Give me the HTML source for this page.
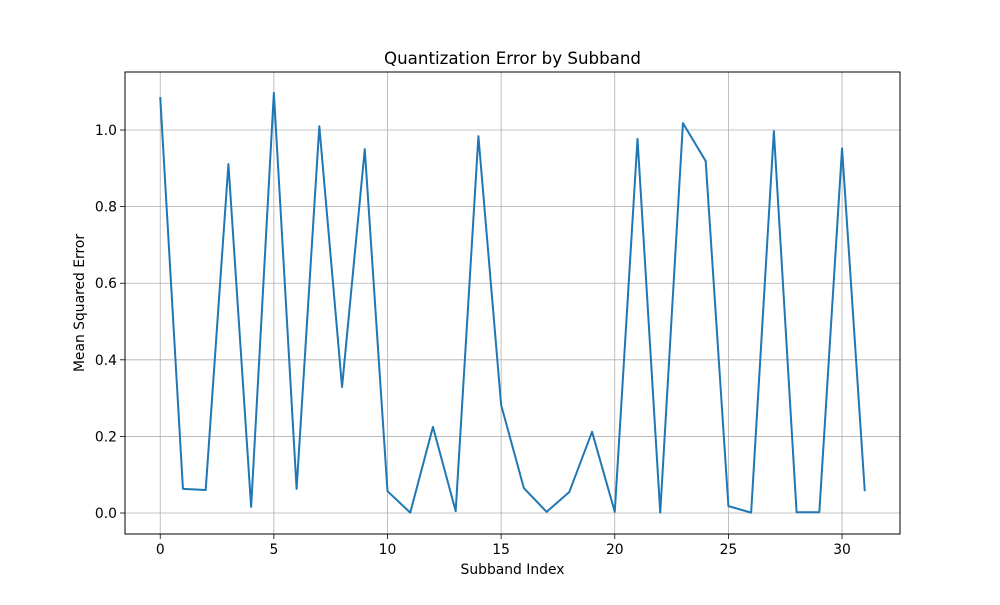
<!DOCTYPE html>
<html><head><meta charset="utf-8"><style>
body{margin:0;background:#fff;}
svg text{font-family:"DejaVu Sans","Liberation Sans",sans-serif;fill:#000;}
</style></head><body>
<svg id="chart" width="1000" height="600">
<rect x="0" y="0" width="1000" height="600" fill="#fff"/>
<text x="512.5" y="64" text-anchor="middle" font-size="16.67">Quantization Error by Subband</text>
<g id="grid"></g><g id="ticks"></g>
<path id="line" fill="none" stroke="#1f77b4" stroke-width="2" stroke-linejoin="round"/>
<rect x="125" y="72" width="775" height="462" fill="none" stroke="#000" stroke-width="1"/>
<text x="512.5" y="574" text-anchor="middle" font-size="13.89">Subband Index</text>
<text x="0" y="0" transform="translate(84,303) rotate(-90)" text-anchor="middle" font-size="13.89">Mean Squared Error</text>
</svg>
<script>
const mseValues=[1.086,0.063,0.060,0.911,0.016,1.097,0.063,1.010,0.329,0.950,0.057,0.001,0.225,0.005,0.984,0.282,0.065,0.003,0.055,0.212,0.003,0.977,0.001,1.018,0.919,0.018,0.001,0.997,0.002,0.002,0.952,0.057];
const xTicks=[0,5,10,15,20,25,30];
const yTicks=[0.0,0.2,0.4,0.6,0.8,1.0];
const yLabels=["0.0","0.2","0.4","0.6","0.8","1.0"];
const X0=125,X1=900,Y0=534,Y1=72;
const xMin=-1.55,xMax=32.55,yMin=-0.0548,yMax=1.1515;
function xs(v){return X0+(v-xMin)/(xMax-xMin)*(X1-X0);}
function ys(v){return Y0-(v-yMin)/(yMax-yMin)*(Y0-Y1);}
const NS="http://www.w3.org/2000/svg";
const grid=document.getElementById('grid'),ticks=document.getElementById('ticks');
function mk(tag,attrs,parent){const e=document.createElementNS(NS,tag);for(const k in attrs)e.setAttribute(k,attrs[k]);parent.appendChild(e);return e;}
xTicks.forEach(t=>{
 const x=xs(t);
 const g=mk('line',{x1:x,x2:x,y1:Y1,y2:Y0,stroke:'#b0b0b0','stroke-width':0.8},grid);
 
 
 const tk=mk('line',{x1:x,x2:x,y1:Y0,y2:Y0+5,stroke:'#000','stroke-width':0.8},ticks);
 
 
 const tx=mk('text',{x:x,y:Y0+20,'text-anchor':'middle','font-size':13.89},ticks);
 tx.textContent=String(t);
 
 
});
yTicks.forEach((t,i)=>{
 const y=ys(t);
 const g=mk('line',{x1:X0,x2:X1,y1:y,y2:y,stroke:'#b0b0b0','stroke-width':0.8},grid);
 
 
 const tk=mk('line',{x1:X0-5,x2:X0,y1:y,y2:y,stroke:'#000','stroke-width':0.8},ticks);
 
 
 const tx=mk('text',{x:X0-8,y:y+5,'text-anchor':'end','font-size':13.89},ticks);
 tx.textContent=yLabels[i];
 
 
});
document.getElementById('line').setAttribute('d',mseValues.map((v,i)=>(i?'L':'M')+xs(i).toFixed(2)+','+ys(v).toFixed(2)).join(''));
</script>
</body></html>
